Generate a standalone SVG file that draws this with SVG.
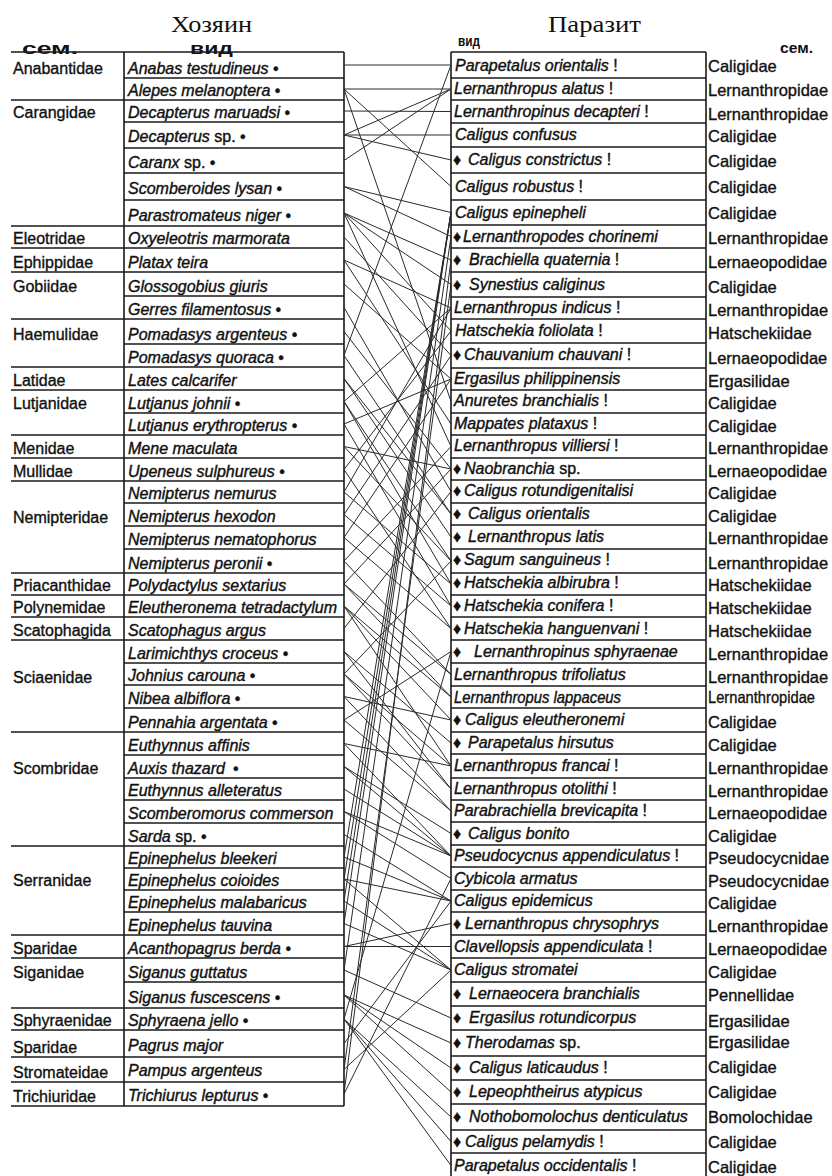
<svg xmlns="http://www.w3.org/2000/svg" width="832" height="1176" viewBox="0 0 832 1176">
<style>
.hd{font-family:"Liberation Serif","Times New Roman",serif;font-size:24px;fill:#111}
.ch{font-family:"Liberation Sans",Arial,sans-serif;font-weight:bold;fill:#111}
.sp{font-family:"Liberation Sans",Arial,sans-serif;font-style:italic;font-size:16px;fill:#111;stroke:#111;stroke-width:0.4}
.fm{font-family:"Liberation Sans",Arial,sans-serif;font-size:16px;fill:#111;stroke:#111;stroke-width:0.35}
.rf{font-family:"Liberation Sans",Arial,sans-serif;font-size:16.5px;fill:#111;stroke:#111;stroke-width:0.35}
.r{font-style:normal}
.grid{stroke:#1a1a1a;stroke-width:1.6;fill:none}
#connectors line{stroke:#2a2a2a;stroke-width:1}
</style>
<rect width="832" height="1176" fill="#fff"/>
<g id="headings">
<text class="hd" x="171" y="32" textLength="81" lengthAdjust="spacingAndGlyphs">Хозяин</text>
<text class="hd" x="548" y="32" textLength="93" lengthAdjust="spacingAndGlyphs">Паразит</text>
<text class="ch" x="22" y="54" font-size="17" textLength="56" lengthAdjust="spacingAndGlyphs">сем.</text>
<text class="ch" x="190" y="54" font-size="16" textLength="43" lengthAdjust="spacingAndGlyphs">вид</text>
<text class="ch" x="458" y="46" font-size="14" textLength="22" lengthAdjust="spacingAndGlyphs">вид</text>
<text class="ch" x="780" y="53" font-size="14" textLength="33" lengthAdjust="spacingAndGlyphs">сем.</text>
</g>
<g id="host-grid">
<path class="grid" d="M124 52V1106M344 52V1106M124 52H344M124 78H344M124 100H344M124 122H344M124 148H344M124 173H344M124 200H344M124 226H344M124 248H344M124 272H344M124 296H344M124 319H344M124 344H344M124 367H344M124 390H344M124 413H344M124 435H344M124 458H344M124 481H344M124 503H344M124 526H344M124 549H344M124 573H344M124 595H344M124 617H344M124 640H344M124 663H344M124 685H344M124 708H344M124 732H344M124 755H344M124 778H344M124 800H344M124 823H344M124 846H344M124 868H344M124 890H344M124 912H344M124 935H344M124 958H344M124 982H344M124 1008H344M124 1030H344M124 1057H344M124 1082H344M124 1106H344"/>
<path class="grid" d="M11 52H124M11 100H124M11 226H124M11 248H124M11 272H124M11 319H124M11 367H124M11 390H124M11 435H124M11 458H124M11 481H124M11 573H124M11 595H124M11 617H124M11 640H124M11 732H124M11 846H124M11 935H124M11 958H124M11 1008H124M11 1030H124M11 1057H124M11 1082H124M11 1106H124"/>
</g>
<g id="parasite-grid">
<path class="grid" d="M451 52V1178M706 52V1178M451 52H706M451 78H706M451 100H706M451 123H706M451 147H706M451 173H706M451 200H706M451 225H706M451 248H706M451 272H706M451 297H706M451 319H706M451 343H706M451 368H706M451 390H706M451 413H706M451 435H706M451 458H706M451 480H706M451 503H706M451 525H706M451 549H706M451 573H706M451 595H706M451 617H706M451 640H706M451 663H706M451 686H706M451 708H706M451 732H706M451 754H706M451 778H706M451 800H706M451 822H706M451 845H706M451 867H706M451 890H706M451 912H706M451 935H706M451 958H706M451 982H706M451 1006H706M451 1030H706M451 1056H706M451 1080H706M451 1104H706M451 1130H706M451 1153H706"/>
</g>
<g id="host-families">
<g id="hf-anabantidae"><text class="fm" x="13" y="74">Anabantidae</text></g>
<g id="hf-carangidae"><text class="fm" x="13" y="118">Carangidae</text></g>
<g id="hf-eleotridae"><text class="fm" x="13" y="244">Eleotridae</text></g>
<g id="hf-ephippidae"><text class="fm" x="13" y="268">Ephippidae</text></g>
<g id="hf-gobiidae"><text class="fm" x="13" y="292">Gobiidae</text></g>
<g id="hf-haemulidae"><text class="fm" x="13" y="340">Haemulidae</text></g>
<g id="hf-latidae"><text class="fm" x="13" y="386">Latidae</text></g>
<g id="hf-lutjanidae"><text class="fm" x="13" y="409">Lutjanidae</text></g>
<g id="hf-menidae"><text class="fm" x="13" y="454">Menidae</text></g>
<g id="hf-mullidae"><text class="fm" x="13" y="477">Mullidae</text></g>
<g id="hf-nemipteridae"><text class="fm" x="13" y="523">Nemipteridae</text></g>
<g id="hf-priacanthidae"><text class="fm" x="13" y="591">Priacanthidae</text></g>
<g id="hf-polynemidae"><text class="fm" x="13" y="613">Polynemidae</text></g>
<g id="hf-scatophagida"><text class="fm" x="13" y="636">Scatophagida</text></g>
<g id="hf-sciaenidae"><text class="fm" x="13" y="683">Sciaenidae</text></g>
<g id="hf-scombridae"><text class="fm" x="13" y="774">Scombridae</text></g>
<g id="hf-serranidae"><text class="fm" x="13" y="886">Serranidae</text></g>
<g id="hf-sparidae1"><text class="fm" x="13" y="954">Sparidae</text></g>
<g id="hf-siganidae"><text class="fm" x="13" y="978">Siganidae</text></g>
<g id="hf-sphyraenidae"><text class="fm" x="13" y="1026">Sphyraenidae</text></g>
<g id="hf-sparidae2"><text class="fm" x="13" y="1053">Sparidae</text></g>
<g id="hf-stromateidae"><text class="fm" x="13" y="1078">Stromateidae</text></g>
<g id="hf-trichiuridae"><text class="fm" x="13" y="1102">Trichiuridae</text></g>
</g>
<g id="hosts">
<g id="h1"><text class="sp" x="128" y="74">Anabas testudineus<tspan class="r"> •</tspan></text></g>
<g id="h2"><text class="sp" x="128" y="96">Alepes melanoptera<tspan class="r"> •</tspan></text></g>
<g id="h3"><text class="sp" x="128" y="118">Decapterus maruadsi<tspan class="r"> •</tspan></text></g>
<g id="h4"><text class="sp" x="128" y="142">Decapterus<tspan class="r"> sp. •</tspan></text></g>
<g id="h5"><text class="sp" x="128" y="168">Caranx<tspan class="r"> sp. •</tspan></text></g>
<g id="h6"><text class="sp" x="128" y="194">Scomberoides lysan<tspan class="r"> •</tspan></text></g>
<g id="h7"><text class="sp" x="128" y="221">Parastromateus niger<tspan class="r"> •</tspan></text></g>
<g id="h8"><text class="sp" x="128" y="244">Oxyeleotris marmorata</text></g>
<g id="h9"><text class="sp" x="128" y="268">Platax teira</text></g>
<g id="h10"><text class="sp" x="128" y="292">Glossogobius giuris</text></g>
<g id="h11"><text class="sp" x="128" y="315">Gerres filamentosus<tspan class="r"> •</tspan></text></g>
<g id="h12"><text class="sp" x="128" y="340">Pomadasys argenteus<tspan class="r"> •</tspan></text></g>
<g id="h13"><text class="sp" x="128" y="363">Pomadasys quoraca<tspan class="r"> •</tspan></text></g>
<g id="h14"><text class="sp" x="128" y="386">Lates calcarifer</text></g>
<g id="h15"><text class="sp" x="128" y="409">Lutjanus johnii<tspan class="r"> •</tspan></text></g>
<g id="h16"><text class="sp" x="128" y="431">Lutjanus erythropterus<tspan class="r"> •</tspan></text></g>
<g id="h17"><text class="sp" x="128" y="454">Mene maculata</text></g>
<g id="h18"><text class="sp" x="128" y="477">Upeneus sulphureus<tspan class="r"> •</tspan></text></g>
<g id="h19"><text class="sp" x="128" y="499">Nemipterus nemurus</text></g>
<g id="h20"><text class="sp" x="128" y="522">Nemipterus hexodon</text></g>
<g id="h21"><text class="sp" x="128" y="545">Nemipterus nematophorus</text></g>
<g id="h22"><text class="sp" x="128" y="569">Nemipterus peronii<tspan class="r"> •</tspan></text></g>
<g id="h23"><text class="sp" x="128" y="591">Polydactylus sextarius</text></g>
<g id="h24"><text class="sp" x="128" y="613">Eleutheronema tetradactylum</text></g>
<g id="h25"><text class="sp" x="128" y="636">Scatophagus argus</text></g>
<g id="h26"><text class="sp" x="128" y="659">Larimichthys croceus<tspan class="r"> •</tspan></text></g>
<g id="h27"><text class="sp" x="128" y="681">Johnius carouna<tspan class="r"> •</tspan></text></g>
<g id="h28"><text class="sp" x="128" y="704">Nibea albiflora<tspan class="r"> •</tspan></text></g>
<g id="h29"><text class="sp" x="128" y="728">Pennahia argentata<tspan class="r"> •</tspan></text></g>
<g id="h30"><text class="sp" x="128" y="751">Euthynnus affinis</text></g>
<g id="h31"><text class="sp" x="128" y="774">Auxis thazard<tspan class="r" dx="8">•</tspan></text></g>
<g id="h32"><text class="sp" x="128" y="796">Euthynnus alleteratus</text></g>
<g id="h33"><text class="sp" x="128" y="819">Scomberomorus commerson</text></g>
<g id="h34"><text class="sp" x="128" y="842">Sarda<tspan class="r"> sp. •</tspan></text></g>
<g id="h35"><text class="sp" x="128" y="864">Epinephelus bleekeri</text></g>
<g id="h36"><text class="sp" x="128" y="886">Epinephelus coioides</text></g>
<g id="h37"><text class="sp" x="128" y="908">Epinephelus malabaricus</text></g>
<g id="h38"><text class="sp" x="128" y="931">Epinephelus tauvina</text></g>
<g id="h39"><text class="sp" x="128" y="954">Acanthopagrus berda<tspan class="r"> •</tspan></text></g>
<g id="h40"><text class="sp" x="128" y="978">Siganus guttatus</text></g>
<g id="h41"><text class="sp" x="128" y="1003">Siganus fuscescens<tspan class="r"> •</tspan></text></g>
<g id="h42"><text class="sp" x="128" y="1026">Sphyraena jello<tspan class="r"> •</tspan></text></g>
<g id="h43"><text class="sp" x="128" y="1051">Pagrus major</text></g>
<g id="h44"><text class="sp" x="128" y="1076">Pampus argenteus</text></g>
<g id="h45"><text class="sp" x="128" y="1101">Trichiurus lepturus<tspan class="r"> •</tspan></text></g>
</g>
<g id="parasites">
<g id="p1"><text class="sp" x="455" y="71">Parapetalus orientalis<tspan class="r"> !</tspan></text><text class="rf" x="708" y="72">Caligidae</text></g>
<g id="p2"><text class="sp" x="454" y="94">Lernanthropus alatus<tspan class="r"> !</tspan></text><text class="rf" x="708" y="96">Lernanthropidae</text></g>
<g id="p3"><text class="sp" x="454" y="117">Lernanthropinus decapteri<tspan class="r"> !</tspan></text><text class="rf" x="708" y="120">Lernanthropidae</text></g>
<g id="p4"><text class="sp" x="455" y="140">Caligus confusus</text><text class="rf" x="708" y="142">Caligidae</text></g>
<g id="p5"><text class="sp" x="453" y="165"><tspan class="r">♦</tspan><tspan x="468">Caligus constrictus</tspan><tspan class="r"> !</tspan></text><text class="rf" x="708" y="167">Caligidae</text></g>
<g id="p6"><text class="sp" x="455" y="192">Caligus robustus<tspan class="r"> !</tspan></text><text class="rf" x="708" y="193">Caligidae</text></g>
<g id="p7"><text class="sp" x="455" y="218">Caligus epinepheli</text><text class="rf" x="708" y="219">Caligidae</text></g>
<g id="p8"><text class="sp" x="453" y="242"><tspan class="r">♦</tspan><tspan x="463">Lernanthropodes chorinemi</tspan></text><text class="rf" x="708" y="244">Lernanthropidae</text></g>
<g id="p9"><text class="sp" x="453" y="265"><tspan class="r">♦</tspan><tspan x="469">Brachiella quaternia</tspan><tspan class="r"> !</tspan></text><text class="rf" x="708" y="268">Lernaeopodidae</text></g>
<g id="p10"><text class="sp" x="453" y="290"><tspan class="r">♦</tspan><tspan x="469">Synestius caliginus</tspan></text><text class="rf" x="708" y="293">Caligidae</text></g>
<g id="p11"><text class="sp" x="454" y="313">Lernanthropus indicus<tspan class="r"> !</tspan></text><text class="rf" x="708" y="316">Lernanthropidae</text></g>
<g id="p12"><text class="sp" x="455" y="336">Hatschekia foliolata<tspan class="r"> !</tspan></text><text class="rf" x="708" y="339">Hatschekiidae</text></g>
<g id="p13"><text class="sp" x="453" y="360"><tspan class="r">♦</tspan><tspan x="464">Chauvanium chauvani</tspan><tspan class="r"> !</tspan></text><text class="rf" x="708" y="364">Lernaeopodidae</text></g>
<g id="p14"><text class="sp" x="454" y="384">Ergasilus philippinensis</text><text class="rf" x="708" y="387">Ergasilidae</text></g>
<g id="p15"><text class="sp" x="454" y="406">Anuretes branchialis<tspan class="r"> !</tspan></text><text class="rf" x="708" y="409">Caligidae</text></g>
<g id="p16"><text class="sp" x="454" y="429">Mappates plataxus<tspan class="r"> !</tspan></text><text class="rf" x="708" y="432">Caligidae</text></g>
<g id="p17"><text class="sp" x="454" y="451">Lernanthropus villiersi<tspan class="r"> !</tspan></text><text class="rf" x="708" y="454">Lernanthropidae</text></g>
<g id="p18"><text class="sp" x="453" y="474"><tspan class="r">♦</tspan><tspan x="464">Naobranchia</tspan><tspan class="r"> sp.</tspan></text><text class="rf" x="708" y="477">Lernaeopodidae</text></g>
<g id="p19"><text class="sp" x="453" y="496"><tspan class="r">♦</tspan><tspan x="464">Caligus rotundigenitalisi</tspan></text><text class="rf" x="708" y="499">Caligidae</text></g>
<g id="p20"><text class="sp" x="453" y="519"><tspan class="r">♦</tspan><tspan x="468">Caligus orientalis</tspan></text><text class="rf" x="708" y="522">Caligidae</text></g>
<g id="p21"><text class="sp" x="453" y="542"><tspan class="r">♦</tspan><tspan x="468">Lernanthropus latis</tspan></text><text class="rf" x="708" y="544">Lernanthropidae</text></g>
<g id="p22"><text class="sp" x="453" y="565"><tspan class="r">♦</tspan><tspan x="464">Sagum sanguineus</tspan><tspan class="r"> !</tspan></text><text class="rf" x="708" y="569">Lernanthropidae</text></g>
<g id="p23"><text class="sp" x="453" y="588"><tspan class="r">♦</tspan><tspan x="464">Hatschekia albirubra</tspan><tspan class="r"> !</tspan></text><text class="rf" x="708" y="591">Hatschekiidae</text></g>
<g id="p24"><text class="sp" x="453" y="611"><tspan class="r">♦</tspan><tspan x="464">Hatschekia conifera</tspan><tspan class="r"> !</tspan></text><text class="rf" x="708" y="614">Hatschekiidae</text></g>
<g id="p25"><text class="sp" x="453" y="634"><tspan class="r">♦</tspan><tspan x="464">Hatschekia hanguenvani</tspan><tspan class="r"> !</tspan></text><text class="rf" x="708" y="637">Hatschekiidae</text></g>
<g id="p26"><text class="sp" x="453" y="657"><tspan class="r">♦</tspan><tspan x="474">Lernanthropinus sphyraenae</tspan></text><text class="rf" x="708" y="660">Lernanthropidae</text></g>
<g id="p27"><text class="sp" x="454" y="680">Lernanthropus trifoliatus</text><text class="rf" x="708" y="683">Lernanthropidae</text></g>
<g id="p28"><text class="sp" x="454" y="703" textLength="167" lengthAdjust="spacingAndGlyphs">Lernanthropus lappaceus</text><text class="rf" x="708" y="703" textLength="107" lengthAdjust="spacingAndGlyphs">Lernanthropidae</text></g>
<g id="p29"><text class="sp" x="453" y="725"><tspan class="r">♦</tspan><tspan x="465">Caligus eleutheronemi</tspan></text><text class="rf" x="708" y="728">Caligidae</text></g>
<g id="p30"><text class="sp" x="453" y="748"><tspan class="r">♦</tspan><tspan x="468">Parapetalus hirsutus</tspan></text><text class="rf" x="708" y="751">Caligidae</text></g>
<g id="p31"><text class="sp" x="454" y="771">Lernanthropus francai<tspan class="r"> !</tspan></text><text class="rf" x="708" y="774">Lernanthropidae</text></g>
<g id="p32"><text class="sp" x="454" y="794">Lernanthropus otolithi<tspan class="r"> !</tspan></text><text class="rf" x="708" y="797">Lernanthropidae</text></g>
<g id="p33"><text class="sp" x="454" y="816">Parabrachiella brevicapita<tspan class="r"> !</tspan></text><text class="rf" x="708" y="819">Lernaeopodidae</text></g>
<g id="p34"><text class="sp" x="453" y="839"><tspan class="r">♦</tspan><tspan x="468">Caligus bonito</tspan></text><text class="rf" x="708" y="842">Caligidae</text></g>
<g id="p35"><text class="sp" x="454" y="861">Pseudocycnus appendiculatus<tspan class="r"> !</tspan></text><text class="rf" x="708" y="864">Pseudocycnidae</text></g>
<g id="p36"><text class="sp" x="454" y="884">Cybicola armatus</text><text class="rf" x="708" y="887">Pseudocycnidae</text></g>
<g id="p37"><text class="sp" x="454" y="906">Caligus epidemicus</text><text class="rf" x="708" y="909">Caligidae</text></g>
<g id="p38"><text class="sp" x="453" y="929"><tspan class="r">♦</tspan><tspan x="465">Lernanthropus chrysophrys</tspan></text><text class="rf" x="708" y="932">Lernanthropidae</text></g>
<g id="p39"><text class="sp" x="454" y="952">Clavellopsis appendiculata<tspan class="r"> !</tspan></text><text class="rf" x="708" y="955">Lernaeopodidae</text></g>
<g id="p40"><text class="sp" x="454" y="975">Caligus stromatei</text><text class="rf" x="708" y="978">Caligidae</text></g>
<g id="p41"><text class="sp" x="453" y="999"><tspan class="r">♦</tspan><tspan x="469">Lernaeocera branchialis</tspan></text><text class="rf" x="708" y="1001">Pennellidae</text></g>
<g id="p42"><text class="sp" x="453" y="1023"><tspan class="r">♦</tspan><tspan x="469">Ergasilus rotundicorpus</tspan></text><text class="rf" x="708" y="1027">Ergasilidae</text></g>
<g id="p43"><text class="sp" x="453" y="1048"><tspan class="r">♦</tspan><tspan x="465">Therodamas</tspan><tspan class="r"> sp.</tspan></text><text class="rf" x="708" y="1048">Ergasilidae</text></g>
<g id="p44"><text class="sp" x="453" y="1073"><tspan class="r">♦</tspan><tspan x="469">Caligus laticaudus</tspan><tspan class="r"> !</tspan></text><text class="rf" x="708" y="1073">Caligidae</text></g>
<g id="p45"><text class="sp" x="453" y="1097"><tspan class="r">♦</tspan><tspan x="469">Lepeophtheirus atypicus</tspan></text><text class="rf" x="708" y="1098">Caligidae</text></g>
<g id="p46"><text class="sp" x="453" y="1122"><tspan class="r">♦</tspan><tspan x="469">Nothobomolochus denticulatus</tspan></text><text class="rf" x="708" y="1123">Bomolochidae</text></g>
<g id="p47"><text class="sp" x="453" y="1147"><tspan class="r">♦</tspan><tspan x="465">Caligus pelamydis</tspan><tspan class="r"> !</tspan></text><text class="rf" x="708" y="1148">Caligidae</text></g>
<g id="p48"><text class="sp" x="454" y="1171">Parapetalus occidentalis<tspan class="r"> !</tspan></text><text class="rf" x="708" y="1173">Caligidae</text></g>
</g>
<g id="connectors">
<line x1="344" y1="65" x2="451" y2="65"/>
<line x1="344" y1="89" x2="451" y2="89"/>
<line x1="344" y1="89" x2="451" y2="186.5"/>
<line x1="344" y1="89" x2="451" y2="401.5"/>
<line x1="344" y1="355.5" x2="451" y2="65"/>
<line x1="344" y1="111" x2="451" y2="111.5"/>
<line x1="344" y1="135" x2="451" y2="89"/>
<line x1="344" y1="135" x2="451" y2="135"/>
<line x1="344" y1="135" x2="451" y2="160"/>
<line x1="344" y1="160.5" x2="451" y2="89"/>
<line x1="344" y1="186.5" x2="451" y2="212.5"/>
<line x1="344" y1="186.5" x2="451" y2="236.5"/>
<line x1="344" y1="213" x2="451" y2="260"/>
<line x1="344" y1="213" x2="451" y2="284.5"/>
<line x1="344" y1="213" x2="451" y2="331"/>
<line x1="344" y1="213" x2="451" y2="446.5"/>
<line x1="344" y1="237" x2="451" y2="355.5"/>
<line x1="344" y1="260" x2="451" y2="424"/>
<line x1="344" y1="260" x2="451" y2="308"/>
<line x1="344" y1="284" x2="451" y2="379"/>
<line x1="344" y1="307.5" x2="451" y2="491.5"/>
<line x1="344" y1="331.5" x2="451" y2="469"/>
<line x1="344" y1="355.5" x2="451" y2="514"/>
<line x1="344" y1="378.5" x2="451" y2="537"/>
<line x1="344" y1="378.5" x2="451" y2="514"/>
<line x1="344" y1="401.5" x2="451" y2="561"/>
<line x1="344" y1="401.5" x2="451" y2="584"/>
<line x1="344" y1="424" x2="451" y2="606"/>
<line x1="344" y1="446.5" x2="451" y2="561"/>
<line x1="344" y1="469.5" x2="451" y2="628.5"/>
<line x1="344" y1="492" x2="451" y2="584"/>
<line x1="344" y1="514.5" x2="451" y2="606"/>
<line x1="344" y1="537.5" x2="451" y2="628.5"/>
<line x1="344" y1="561" x2="451" y2="674.5"/>
<line x1="344" y1="584" x2="451" y2="674.5"/>
<line x1="344" y1="584" x2="451" y2="697"/>
<line x1="344" y1="606" x2="451" y2="720"/>
<line x1="344" y1="606" x2="451" y2="697"/>
<line x1="344" y1="606" x2="451" y2="766"/>
<line x1="344" y1="628.5" x2="451" y2="491.5"/>
<line x1="344" y1="651.5" x2="451" y2="743"/>
<line x1="344" y1="651.5" x2="451" y2="789"/>
<line x1="344" y1="674" x2="451" y2="789"/>
<line x1="344" y1="674" x2="451" y2="766"/>
<line x1="344" y1="696.5" x2="451" y2="811"/>
<line x1="344" y1="720" x2="451" y2="811"/>
<line x1="344" y1="743.5" x2="451" y2="856"/>
<line x1="344" y1="766.5" x2="451" y2="856"/>
<line x1="344" y1="789" x2="451" y2="856"/>
<line x1="344" y1="811.5" x2="451" y2="878.5"/>
<line x1="344" y1="811.5" x2="451" y2="856"/>
<line x1="344" y1="766.5" x2="451" y2="833.5"/>
<line x1="344" y1="834.5" x2="451" y2="901"/>
<line x1="344" y1="857" x2="451" y2="901"/>
<line x1="344" y1="879" x2="451" y2="970"/>
<line x1="344" y1="901" x2="451" y2="970"/>
<line x1="344" y1="923.5" x2="451" y2="970"/>
<line x1="344" y1="879" x2="451" y2="901"/>
<line x1="344" y1="492" x2="451" y2="308"/>
<line x1="344" y1="514.5" x2="451" y2="355.5"/>
<line x1="344" y1="469.5" x2="451" y2="331"/>
<line x1="344" y1="720" x2="451" y2="651.5"/>
<line x1="344" y1="1019" x2="451" y2="651.5"/>
<line x1="344" y1="1043.5" x2="451" y2="901"/>
<line x1="344" y1="1069.5" x2="451" y2="970"/>
<line x1="344" y1="1069.5" x2="451" y2="284.5"/>
<line x1="344" y1="1094" x2="451" y2="260"/>
<line x1="344" y1="1094" x2="451" y2="878.5"/>
<line x1="344" y1="857" x2="451" y2="212.5"/>
<line x1="344" y1="879" x2="451" y2="212.5"/>
<line x1="344" y1="901" x2="451" y2="212.5"/>
<line x1="344" y1="923.5" x2="451" y2="212.5"/>
<line x1="344" y1="946.5" x2="451" y2="923.5"/>
<line x1="344" y1="946.5" x2="451" y2="946.5"/>
<line x1="344" y1="970" x2="451" y2="1018"/>
<line x1="344" y1="995" x2="451" y2="1043"/>
<line x1="344" y1="995" x2="451" y2="1068"/>
<line x1="344" y1="995" x2="451" y2="1092"/>
<line x1="344" y1="1019" x2="451" y2="1117"/>
<line x1="344" y1="1019" x2="451" y2="1141.5"/>
<line x1="344" y1="1019" x2="451" y2="1165.5"/>
<line x1="344" y1="970" x2="451" y2="236.5"/>
<line x1="344" y1="561" x2="451" y2="446.5"/>
<line x1="344" y1="424" x2="451" y2="379"/>
<line x1="344" y1="743.5" x2="451" y2="766"/>
<line x1="344" y1="446.5" x2="451" y2="469"/>
<line x1="344" y1="696.5" x2="451" y2="720"/>
<line x1="344" y1="537.5" x2="451" y2="379"/>
<line x1="344" y1="584" x2="451" y2="469"/>
<line x1="344" y1="674" x2="451" y2="561"/>
<line x1="344" y1="401.5" x2="451" y2="308"/>
</g>
</svg>
